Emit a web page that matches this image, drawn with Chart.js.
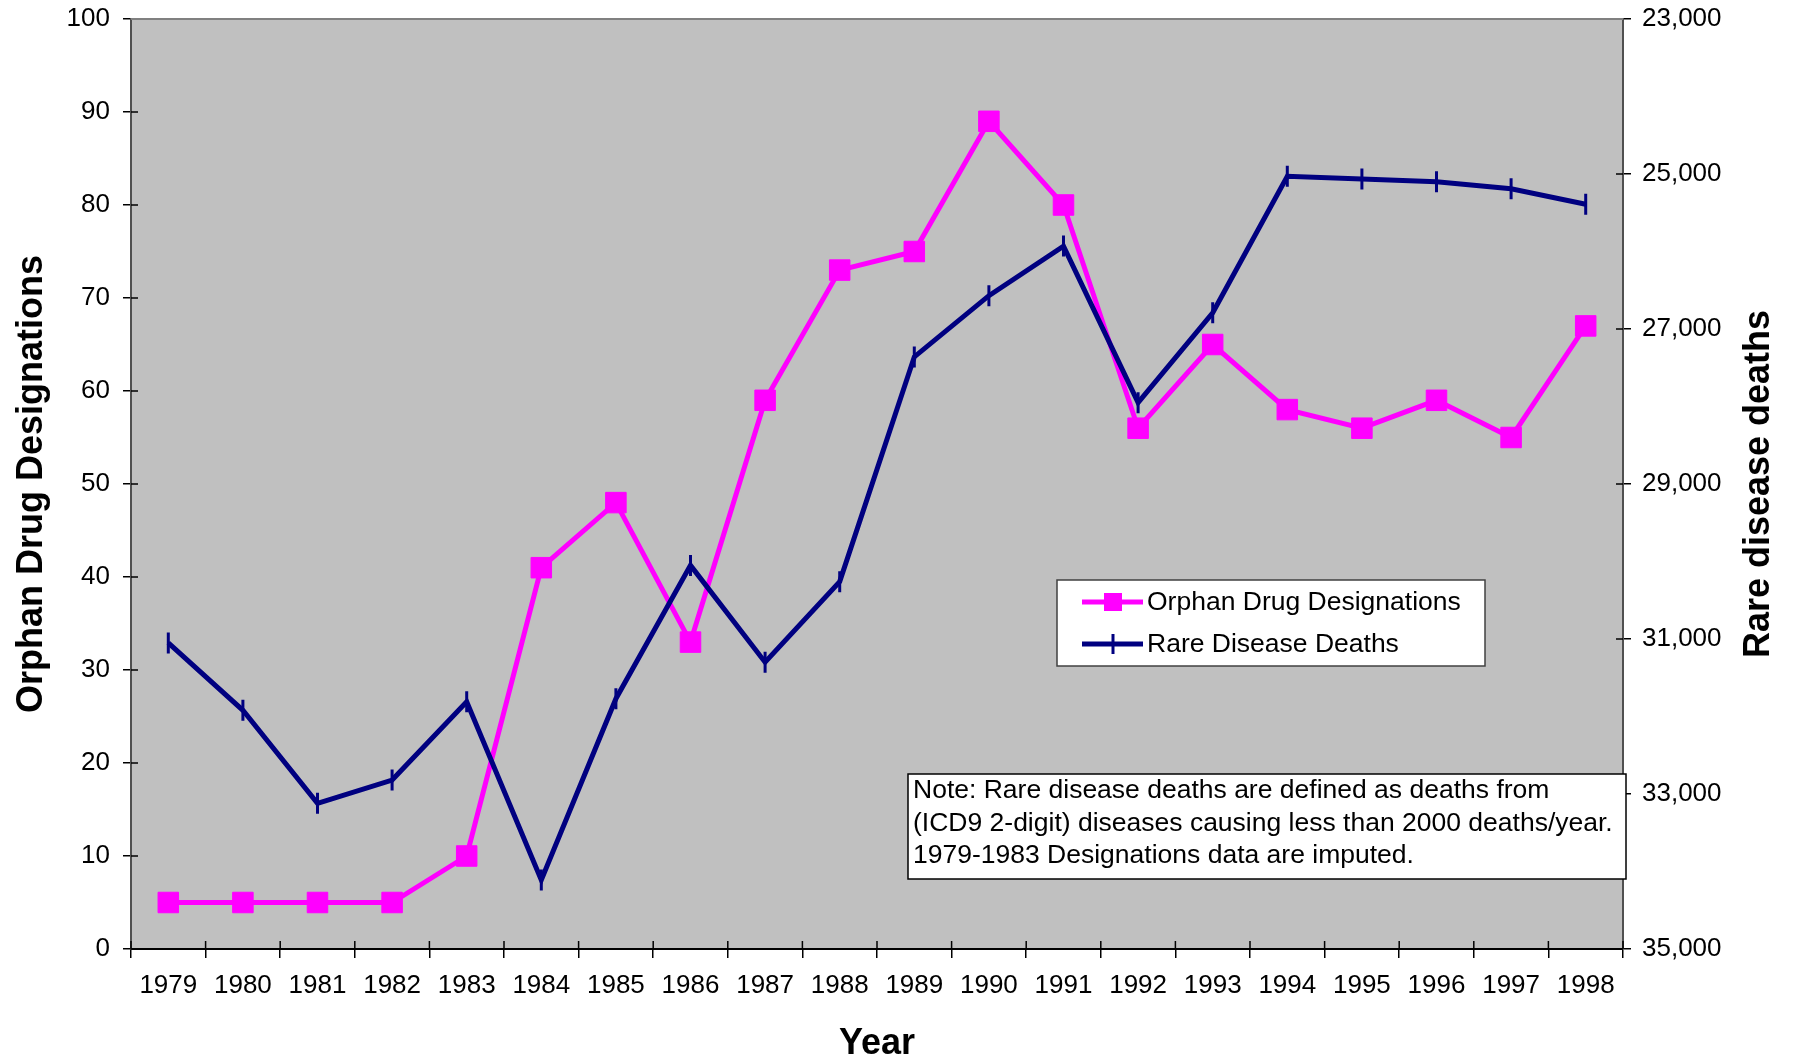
<!DOCTYPE html>
<html>
<head>
<meta charset="utf-8">
<script src="https://cdn.jsdelivr.net/npm/chart.js@4.4.1/dist/chart.umd.min.js"></script>
<style>
  html, body { margin: 0; padding: 0; background: #ffffff; }
  #wrap { width: 1795px; height: 1061px; }
</style>
</head>
<body>
<div id="wrap"><canvas id="chart" width="1795" height="1061"></canvas></div>
<script>
// Years on the category axis
const years = ['1979','1980','1981','1982','1983','1984','1985','1986','1987','1988',
               '1989','1990','1991','1992','1993','1994','1995','1996','1997','1998'];

// Orphan drug designations per year (left axis)
const designations = [5, 5, 5, 5, 10, 41, 48, 33, 59, 73, 75, 89, 80, 56, 65, 58, 56, 59, 55, 67];

// Rare disease deaths per year (right axis, inverted)
const rareDeaths = [31050, 31920, 33120, 32820, 31810, 34110, 31770, 30050, 31300, 30260,
                    27360, 26570, 25930, 27950, 26790, 25030, 25065, 25100, 25190, 25390];

const seriesNames = ['Orphan Drug Designations', 'Rare Disease Deaths'];

const noteLines = [
  'Note: Rare disease deaths are defined as deaths from',
  '(ICD9 2-digit) diseases causing less than 2000 deaths/year.',
  '1979-1983 Designations data are imputed.'
];

const FONT = '"Liberation Sans", Arial, Helvetica, sans-serif';
const PINK = '#FF00FF';
const NAVY = '#000080';

// Grey plot area background
const plotBackground = {
  id: 'plotBackground',
  beforeDraw(chart) {
    const { ctx, chartArea: a } = chart;
    ctx.save();
    ctx.fillStyle = '#C0C0C0';
    ctx.fillRect(a.left, a.top, a.right - a.left, a.bottom - a.top);
    ctx.restore();
  }
};

// Tick marks that cross the axis lines (inner half) and the top frame line
const axisDecor = {
  id: 'axisDecor',
  beforeDatasetsDraw(chart) {
    const { ctx, chartArea: a, scales } = chart;
    ctx.save();
    ctx.strokeStyle = '#000';
    ctx.lineWidth = 1.5;
    ctx.beginPath();
    scales.y.ticks.forEach((t, i) => {
      const y = scales.y.getPixelForTick(i);
      ctx.moveTo(a.left, y); ctx.lineTo(a.left + 7, y);
    });
    scales.y2.ticks.forEach((t, i) => {
      const y = scales.y2.getPixelForTick(i);
      ctx.moveTo(a.right - 7, y); ctx.lineTo(a.right, y);
    });
    const n = scales.x.ticks.length;
    for (let i = 0; i <= n; i++) {
      const x = scales.x.left + i * scales.x.width / n;
      ctx.moveTo(x, a.bottom - 8); ctx.lineTo(x, a.bottom);
    }
    ctx.stroke();
    ctx.strokeStyle = '#808080';
    ctx.lineWidth = 2;
    ctx.beginPath();
    ctx.moveTo(a.left, a.top); ctx.lineTo(a.right, a.top);
    ctx.stroke();
    ctx.restore();
  }
};

// Legend box, note box and right-hand axis title
const overlays = {
  id: 'overlays',
  afterDraw(chart) {
    const { ctx, chartArea: a } = chart;
    ctx.save();

    // Legend
    const lx = 1057, ly = 580, lw = 428, lh = 86;
    ctx.fillStyle = '#fff';
    ctx.fillRect(lx, ly, lw, lh);
    ctx.strokeStyle = '#404040';
    ctx.lineWidth = 1.5;
    ctx.strokeRect(lx, ly, lw, lh);
    chart.data.datasets.forEach((ds, i) => {
      const cy = ly + 22 + i * 42;
      ctx.strokeStyle = ds.borderColor;
      ctx.lineWidth = 5;
      ctx.beginPath();
      ctx.moveTo(lx + 25, cy); ctx.lineTo(lx + 86, cy);
      ctx.stroke();
      const mx = lx + 56;
      if (ds.pointStyle === 'rect') {
        ctx.fillStyle = ds.borderColor;
        ctx.fillRect(mx - 9, cy - 9, 18, 18);
      } else {
        ctx.lineWidth = 3;
        ctx.beginPath();
        ctx.moveTo(mx, cy - 10); ctx.lineTo(mx, cy + 10);
        ctx.stroke();
      }
      ctx.fillStyle = '#000';
      ctx.font = '26.5px ' + FONT;
      ctx.textAlign = 'left';
      ctx.textBaseline = 'middle';
      ctx.fillText(ds.label, lx + 90, cy + 1);
    });

    // Note
    const nx = 908, ny = 774, nw = 718, nh = 105;
    ctx.fillStyle = '#fff';
    ctx.fillRect(nx, ny, nw, nh);
    ctx.strokeStyle = '#000';
    ctx.lineWidth = 1.5;
    ctx.strokeRect(nx, ny, nw, nh);
    ctx.fillStyle = '#000';
    ctx.font = '26.5px ' + FONT;
    ctx.textAlign = 'left';
    ctx.textBaseline = 'middle';
    noteLines.forEach((t, i) => ctx.fillText(t, nx + 5, ny + 17 + i * 32.5));

    // Right axis title, reading bottom to top
    ctx.translate(1759, (a.top + a.bottom) / 2);
    ctx.rotate(-Math.PI / 2);
    ctx.font = 'bold 36px ' + FONT;
    ctx.textAlign = 'center';
    ctx.textBaseline = 'middle';
    ctx.fillText('Rare disease deaths', 0, 0);
    ctx.restore();
  }
};

const tickFont = { family: FONT, size: 26 };
const titleFont = { family: FONT, size: 36, weight: 'bold', lineHeight: 1 };
const xTitleFont = { family: FONT, size: 36, weight: 'bold', lineHeight: 0.94 };

// Fixed axis band sizes; label overflow is absorbed by the page margins
function fixWidth(w) {
  return (scale) => { scale.width = w; scale.paddingTop = 0; scale.paddingBottom = 0; };
}

new Chart(document.getElementById('chart'), {
  type: 'line',
  data: {
    labels: years,
    datasets: [
      {
        label: seriesNames[0],
        data: designations,
        yAxisID: 'y',
        order: 1,
        borderColor: PINK,
        backgroundColor: PINK,
        borderWidth: 5,
        pointStyle: 'rect',
        pointRadius: 14.5,
        pointBorderWidth: 1,
        pointBackgroundColor: PINK,
        pointBorderColor: PINK,
        tension: 0
      },
      {
        label: seriesNames[1],
        data: rareDeaths,
        yAxisID: 'y2',
        order: 0,
        borderColor: NAVY,
        backgroundColor: NAVY,
        borderWidth: 5,
        pointStyle: 'line',
        pointRotation: 90,
        pointRadius: 10.5,
        pointBorderWidth: 3,
        pointBorderColor: NAVY,
        tension: 0
      }
    ]
  },
  options: {
    responsive: false,
    animation: false,
    devicePixelRatio: 1,
    layout: { padding: { top: 19, left: 0, right: 0, bottom: 0 } },
    plugins: {
      legend: { display: false },
      tooltip: { enabled: false }
    },
    scales: {
      x: {
        type: 'category',
        offset: true,
        grid: { offset: true, drawOnChartArea: false, drawTicks: true, tickLength: 9, color: '#000', lineWidth: 1.5 },
        border: { color: '#000', width: 2 },
        ticks: { font: tickFont, color: '#000', padding: 12, maxRotation: 0, autoSkip: false },
        title: { display: true, text: 'Year', font: xTitleFont, color: '#000', padding: { top: 0, bottom: 0 } },
        afterFit(scale) { scale.height = 112; scale.paddingLeft = 0; scale.paddingRight = 0; }
      },
      y: {
        position: 'left',
        min: 0,
        max: 100,
        ticks: { stepSize: 10, font: tickFont, color: '#000', padding: 13 },
        grid: { drawOnChartArea: false, drawTicks: true, tickLength: 8, color: '#000', lineWidth: 1.5 },
        border: { color: '#505050', width: 2 },
        title: { display: true, text: 'Orphan Drug Designations', font: titleFont, color: '#000', padding: { top: 14, bottom: 0 } },
        afterFit: fixWidth(131)
      },
      y2: {
        position: 'right',
        reverse: true,
        min: 23000,
        max: 35000,
        ticks: {
          stepSize: 2000,
          font: tickFont,
          color: '#000',
          padding: 11,
          callback: (v) => Number(v).toLocaleString('en-US')
        },
        grid: { drawOnChartArea: false, drawTicks: true, tickLength: 8, color: '#000', lineWidth: 1.5 },
        border: { color: '#505050', width: 2 },
        afterFit: fixWidth(172)
      }
    }
  },
  plugins: [plotBackground, axisDecor, overlays]
});
</script>
</body>
</html>
